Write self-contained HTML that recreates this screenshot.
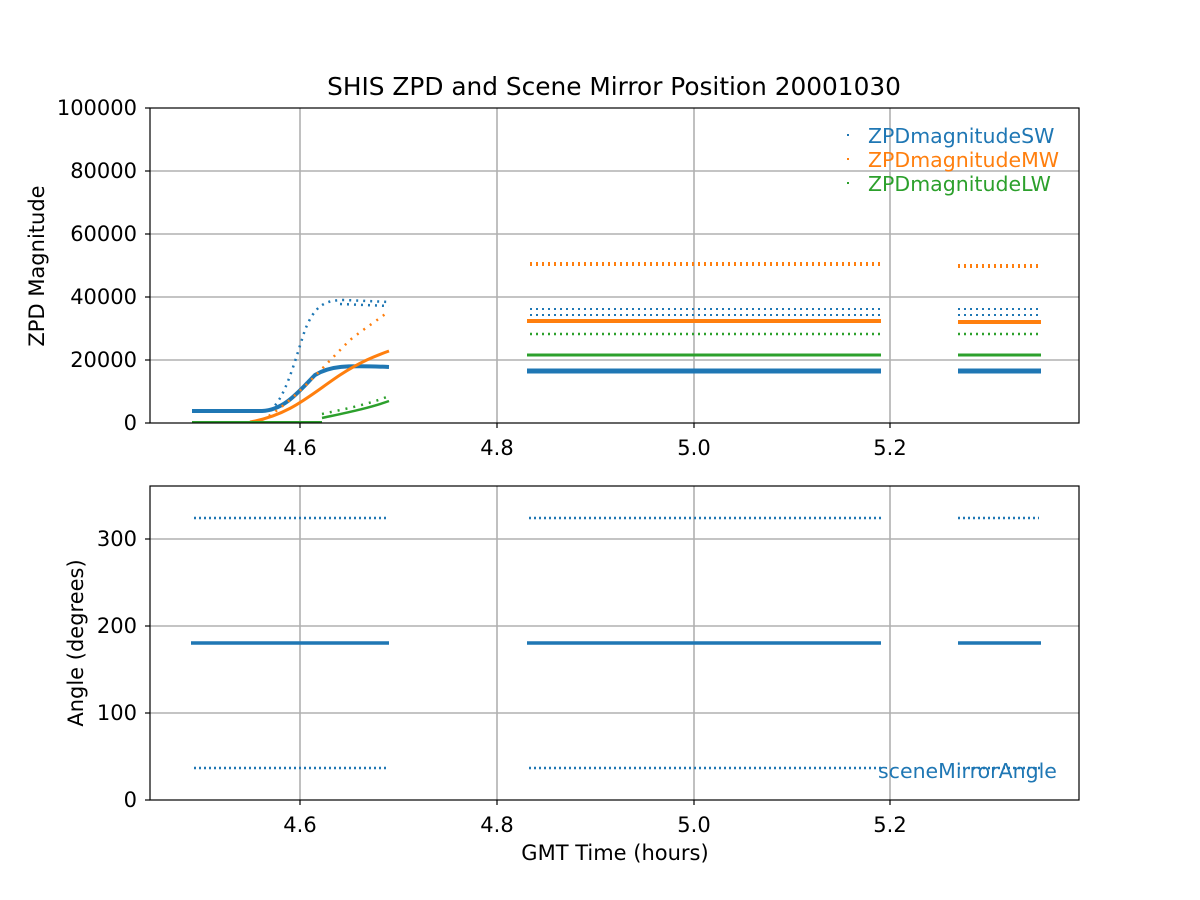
<!DOCTYPE html>
<html><head><meta charset="utf-8"><style>body{margin:0;background:#fff}svg{display:block}text{font-family:"DejaVu Sans","Liberation Sans",sans-serif}</style></head>
<body>
<svg width="1200" height="900" viewBox="0 0 1200 900" xmlns="http://www.w3.org/2000/svg">
<rect width="1200" height="900" fill="#fff"/>
<g stroke="#b0b0b0" stroke-width="1.6">
<line x1="300" y1="108" x2="300" y2="423"/><line x1="497" y1="108" x2="497" y2="423"/><line x1="694" y1="108" x2="694" y2="423"/><line x1="890" y1="108" x2="890" y2="423"/>
<line x1="150" y1="171" x2="1079" y2="171"/><line x1="150" y1="234" x2="1079" y2="234"/><line x1="150" y1="297" x2="1079" y2="297"/><line x1="150" y1="360" x2="1079" y2="360"/>
<line x1="300" y1="486" x2="300" y2="800"/><line x1="497" y1="486" x2="497" y2="800"/><line x1="694" y1="486" x2="694" y2="800"/><line x1="890" y1="486" x2="890" y2="800"/>
<line x1="150" y1="539" x2="1079" y2="539"/><line x1="150" y1="626" x2="1079" y2="626"/><line x1="150" y1="713" x2="1079" y2="713"/>
</g>
<g fill="none">
<path d="M192 411 L262 411 C285 410 300 390 315 375 C330 366 345 365 389 367" stroke="#1f77b4" stroke-width="4"/>
<path d="M270 410 C285 400 295 360 305 330 C315 305 325 300 345 300 L389 302" stroke="#1f77b4" stroke-width="2.5" stroke-dasharray="2 5"/>
<path d="M340 304 L389 306" stroke="#1f77b4" stroke-width="2.5" stroke-dasharray="2 5"/>
<path d="M250 422 C290 415 310 395 340 375 C360 362 375 356 389 351" stroke="#ff7f0e" stroke-width="3"/>
<path d="M262 420 C290 405 320 370 350 340 C365 328 378 320 389 311" stroke="#ff7f0e" stroke-width="2.5" stroke-dasharray="2 6"/>
<line x1="192" y1="422" x2="322" y2="422" stroke="#2ca02c" stroke-width="2"/>
<path d="M322 418 C345 413 370 408 389 401" stroke="#2ca02c" stroke-width="2.5"/>
<path d="M322 414 C345 409 370 404 389 396" stroke="#2ca02c" stroke-width="2.5" stroke-dasharray="2 6"/>
<g stroke-dasharray="2 4">
<line x1="530" y1="264" x2="881" y2="264" stroke="#ff7f0e" stroke-width="4"/>
<line x1="958" y1="266" x2="1041" y2="266" stroke="#ff7f0e" stroke-width="4"/>
<line x1="530" y1="309" x2="881" y2="309" stroke="#1f77b4" stroke-width="2"/>
<line x1="530" y1="315" x2="881" y2="315" stroke="#1f77b4" stroke-width="2"/>
<line x1="958" y1="309" x2="1041" y2="309" stroke="#1f77b4" stroke-width="2"/>
<line x1="958" y1="315" x2="1041" y2="315" stroke="#1f77b4" stroke-width="2"/>
<line x1="530" y1="334" x2="881" y2="334" stroke="#2ca02c" stroke-width="2.5"/>
<line x1="958" y1="334" x2="1041" y2="334" stroke="#2ca02c" stroke-width="2.5"/>
</g>
<line x1="527" y1="321" x2="881" y2="321" stroke="#ff7f0e" stroke-width="4"/>
<line x1="958" y1="322" x2="1041" y2="322" stroke="#ff7f0e" stroke-width="4"/>
<line x1="527" y1="355" x2="881" y2="355" stroke="#2ca02c" stroke-width="3"/>
<line x1="958" y1="355" x2="1041" y2="355" stroke="#2ca02c" stroke-width="3"/>
<line x1="527" y1="371" x2="881" y2="371" stroke="#1f77b4" stroke-width="5"/>
<line x1="958" y1="371" x2="1041" y2="371" stroke="#1f77b4" stroke-width="5"/>
</g>
<g fill="none" stroke="#1f77b4">
<g stroke-width="2.5" stroke-dasharray="2 3">
<line x1="194" y1="518" x2="389" y2="518"/><line x1="529" y1="518" x2="881" y2="518"/><line x1="958" y1="518" x2="1039" y2="518"/>
<line x1="194" y1="768" x2="389" y2="768"/><line x1="529" y1="768" x2="881" y2="768"/><line x1="958" y1="768" x2="1041" y2="768"/>
</g>
<g stroke-width="3.5">
<line x1="191" y1="643" x2="389" y2="643"/><line x1="527" y1="643" x2="881" y2="643"/><line x1="958" y1="643" x2="1041" y2="643"/>
</g>
</g>
<g fill="none" stroke="#000" stroke-width="1.2">
<rect x="150" y="108" width="929" height="315"/>
<rect x="150" y="486" width="929" height="314"/>
</g>
<g stroke="#000" stroke-width="1.2">
<line x1="300" y1="423" x2="300" y2="428"/><line x1="497" y1="423" x2="497" y2="428"/><line x1="694" y1="423" x2="694" y2="428"/><line x1="890" y1="423" x2="890" y2="428"/>
<line x1="300" y1="800" x2="300" y2="805"/><line x1="497" y1="800" x2="497" y2="805"/><line x1="694" y1="800" x2="694" y2="805"/><line x1="890" y1="800" x2="890" y2="805"/>
<line x1="145" y1="108" x2="150" y2="108"/><line x1="145" y1="171" x2="150" y2="171"/><line x1="145" y1="234" x2="150" y2="234"/><line x1="145" y1="297" x2="150" y2="297"/><line x1="145" y1="360" x2="150" y2="360"/><line x1="145" y1="423" x2="150" y2="423"/>
<line x1="145" y1="539" x2="150" y2="539"/><line x1="145" y1="626" x2="150" y2="626"/><line x1="145" y1="713" x2="150" y2="713"/><line x1="145" y1="800" x2="150" y2="800"/>
</g>
<g font-size="21" fill="#000">
<text x="614" y="95" text-anchor="middle" font-size="24.8">SHIS ZPD and Scene Mirror Position 20001030</text>
<g text-anchor="end">
<text x="137" y="115">100000</text><text x="137" y="178">80000</text><text x="137" y="241">60000</text><text x="137" y="304">40000</text><text x="137" y="367">20000</text><text x="137" y="430">0</text>
<text x="137" y="546">300</text><text x="137" y="633">200</text><text x="137" y="720">100</text><text x="137" y="807">0</text>
</g>
<g text-anchor="middle">
<text x="300" y="455">4.6</text><text x="497" y="455">4.8</text><text x="694" y="455">5.0</text><text x="890" y="455">5.2</text>
<text x="300" y="832">4.6</text><text x="497" y="832">4.8</text><text x="694" y="832">5.0</text><text x="890" y="832">5.2</text>
<text x="615" y="860">GMT Time (hours)</text>
</g>
<text transform="translate(44,266) rotate(-90)" text-anchor="middle">ZPD Magnitude</text>
<text transform="translate(83,643) rotate(-90)" text-anchor="middle">Angle (degrees)</text>
</g>
<g font-size="20.5">
<rect x="847" y="134" width="2" height="2" fill="#1f77b4"/><text x="868" y="143" fill="#1f77b4">ZPDmagnitudeSW</text>
<rect x="847" y="158" width="2" height="2" fill="#ff7f0e"/><text x="868" y="167" fill="#ff7f0e">ZPDmagnitudeMW</text>
<rect x="847" y="182" width="2" height="2" fill="#2ca02c"/><text x="868" y="191" fill="#2ca02c">ZPDmagnitudeLW</text>
<text x="878" y="778" fill="#1f77b4">sceneMirrorAngle</text>
</g>
</svg>
</body></html>
